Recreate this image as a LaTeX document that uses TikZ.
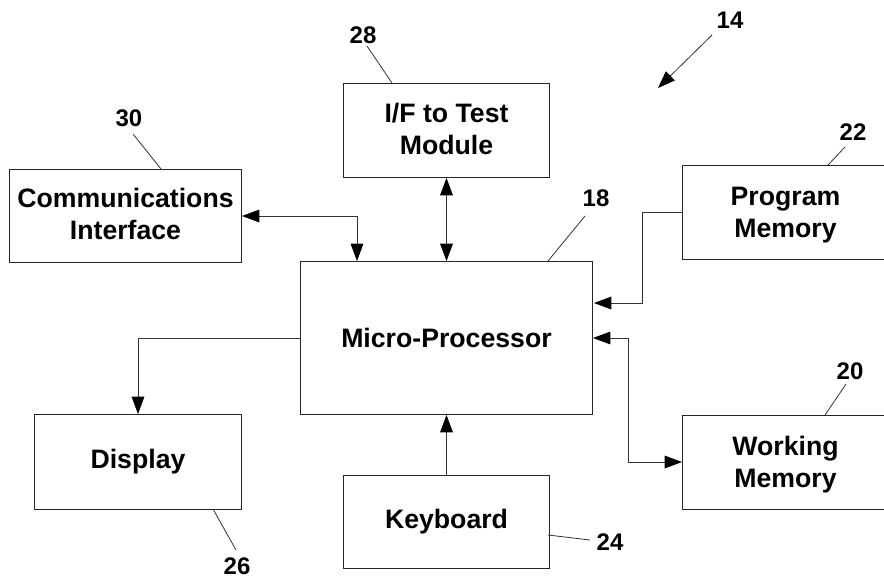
\documentclass[tikz,border=0pt]{standalone}
\usepackage{fontspec}
\setmainfont{Liberation Sans}
\usetikzlibrary{arrows.meta}
\newcommand{\lineup}{\rule[-3pt]{0pt}{0pt}}
\newcommand{\linedown}{\rule{0pt}{18pt}}
\tikzset{
  boxn/.style n args={2}{draw=black!85,line width=0.75pt,minimum width=#1*0.75pt,minimum height=#2*0.75pt,anchor=north west,inner sep=0pt,align=center,font=\fontsize{20}{24}\selectfont\bfseries},
  numn/.style={font=\fontsize{18}{20}\selectfont\bfseries,inner sep=0pt},
  conn/.style={draw=black!80,line width=0.6pt},
  arr/.style={conn,-{Stealth[length=13pt,width=9.5pt,inset=0pt,black]}},
  both/.style={conn,{Stealth[length=13pt,width=9.5pt,inset=0pt,black]}-{Stealth[length=13pt,width=9.5pt,inset=0pt,black]}}
}
\begin{document}
\begin{tikzpicture}[x=0.75pt,y=-0.75pt]
\useasboundingbox (0,0) rectangle (884,578);
\fill[white] (0,0) rectangle (884,578);
% boxes
\node[boxn={232}{93}] (comm) at (9,169) {Communications\\Interface\lineup};
\node[boxn={206}{94}] (ifm) at (343,83) {I/F to Test\\Module\lineup};
\node[boxn={292}{153}] (mp) at (300,261) {Micro-Processor};
\node[boxn={206}{94}] (pm) at (682,165) {\linedown Program\\Memory};
\node[boxn={206}{94}] (wm) at (682,415) {\linedown Working\\Memory};
\node[boxn={207}{95}] (disp) at (34,414) {Display};
\node[boxn={206}{93}] (kb) at (343,475) {Keyboard};
% numbers
\node[numn] (n14) at (730,20) {14};
\node[numn] (n28) at (363,35) {28};
\node[numn] (n30) at (129,118) {30};
\node[numn] (n22) at (853,132) {22};
\node[numn] (n18) at (596,198) {18};
\node[numn] (n20) at (850,371) {20};
\node[numn] (n24) at (610,542) {24};
\node[numn] (n26) at (237,566) {26};
% leaders
\coordinate (s14) at (712,35);
\coordinate (t14) at (658,88);
\coordinate (t28) at (392,83);
\coordinate (s28) at (367,46);
\draw[arr] (s14) -- (t14);
\draw[conn] (s28) -- (t28);
\draw[conn] (133,134) -- (161,169);
\draw[conn] (845,147) -- (828,165);
\draw[conn] (585,216) -- (548,261);
\draw[conn] (846,384) -- (825,415);
\draw[conn] (548,535) -- (590,540);
\draw[conn] (213,509) -- (236,550);
% connectors
\draw[both] (comm.east |- 0,216) -- (357,216) -- (357,261);
\draw[both] (ifm.south) -- (mp.north);
\draw[arr] (pm.west |- 0,212) -- (642,212) -- (642,303) -- (594,303);
\draw[both] (mp.east |- 0,338) -- (628,338) -- (628,462) -- (wm.west |- 0,462);
\draw[arr] (mp.west |- 0,338) -- (138,338) -- (138,414);
\draw[arr] (kb.north) -- (mp.south);
\end{tikzpicture}
\end{document}
